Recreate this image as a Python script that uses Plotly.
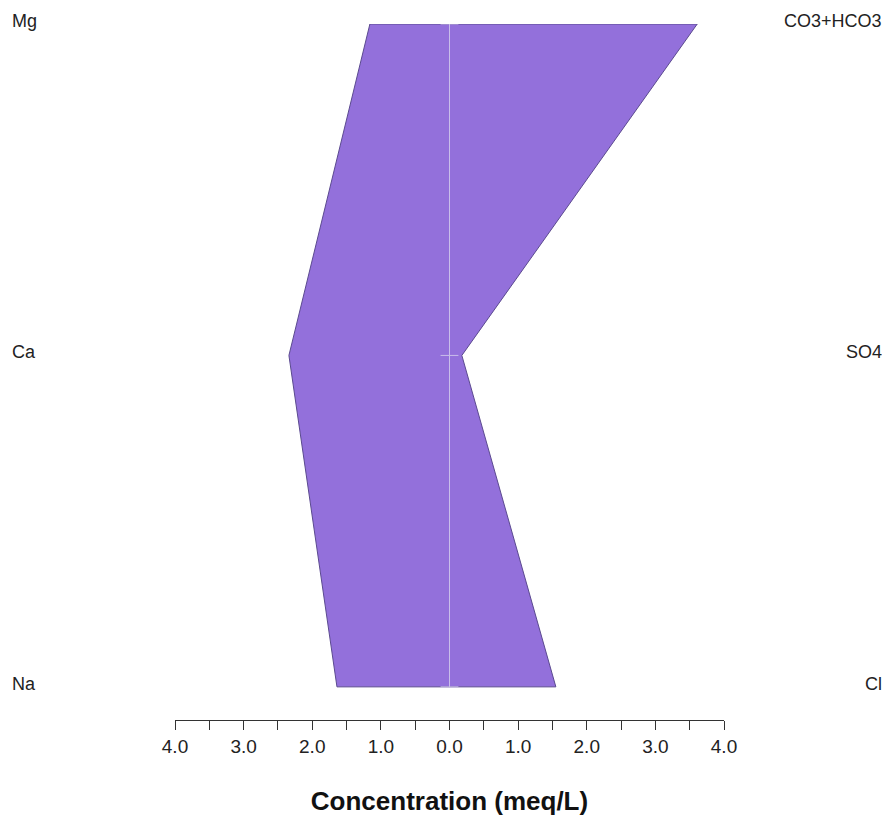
import plotly.graph_objects as go

# Data (meq/L)
cations = ["Mg", "Ca", "Na"]
cation_vals = [1.16, 2.34, 1.64]
anions = ["CO3+HCO3", "SO4", "Cl"]
anion_vals = [3.61, 0.18, 1.55]
levels = [2, 1, 0]  # vertical position of each ion pair (top to bottom)

tick_vals = [-4, -3.5, -3, -2.5, -2, -1.5, -1, -0.5, 0, 0.5, 1, 1.5, 2, 2.5, 3, 3.5, 4]
tick_text = ["4.0", "", "3.0", "", "2.0", "", "1.0", "", "0.0", "", "1.0", "", "2.0", "", "3.0", "", "4.0"]

fill_color = "#9370DB"
edge_color = "#5B4A8F"
text_color = "#222222"
font_family = "Liberation Sans, Arial, sans-serif"

poly_x = [-v for v in cation_vals] + list(reversed(anion_vals)) + [-cation_vals[0]]
poly_y = levels + list(reversed(levels)) + [levels[0]]

fig = go.Figure()
fig.add_trace(go.Scatter(
    x=poly_x, y=poly_y, mode="lines", fill="toself",
    fillcolor=fill_color, line=dict(color=edge_color, width=1),
    hoverinfo="skip", showlegend=False,
))

# center line
fig.add_trace(go.Scatter(
    x=[0, 0], y=[min(levels), max(levels)], mode="lines",
    line=dict(color="#C9BEEA", width=1), hoverinfo="skip", showlegend=False,
))
# small center ticks
for lv in levels:
    fig.add_trace(go.Scatter(
        x=[-0.13, 0.13], y=[lv, lv], mode="lines",
        line=dict(color="#C9BEEA", width=1), hoverinfo="skip", showlegend=False,
    ))

annotations = []
for name, lv in zip(cations, levels):
    annotations.append(dict(
        x=-0.3005, xref="paper", y=lv, yref="y", text=name, showarrow=False,
        xanchor="left", yanchor="middle", yshift=3,
        font=dict(size=18, color=text_color, family=font_family),
    ))
for name, lv in zip(anions, levels):
    annotations.append(dict(
        x=1.2914, xref="paper", y=lv, yref="y", text=name, showarrow=False,
        xanchor="right", yanchor="middle", yshift=3,
        font=dict(size=18, color=text_color, family=font_family),
    ))

fig.update_layout(
    width=882, height=817,
    margin=dict(l=167, r=166, t=16, b=105),
    paper_bgcolor="white", plot_bgcolor="white",
    font=dict(family=font_family, color=text_color),
    annotations=annotations,
    xaxis=dict(
        range=[-4, 4], showgrid=False, zeroline=False,
        showline=True, linecolor="#333333", linewidth=1,
        ticks="outside", ticklen=9, tickcolor="#333333", tickwidth=1,
        tickvals=tick_vals, ticktext=tick_text,
        tickfont=dict(size=19, color=text_color, family=font_family),
        title=dict(text="<b>Concentration (meq/L)</b>",
                   font=dict(size=26, color="#111111", family=font_family),
                   standoff=36),
        fixedrange=True,
    ),
    yaxis=dict(
        range=[-0.1, 2.0], visible=False, fixedrange=True,
    ),
)

fig.write_html("out.html")
